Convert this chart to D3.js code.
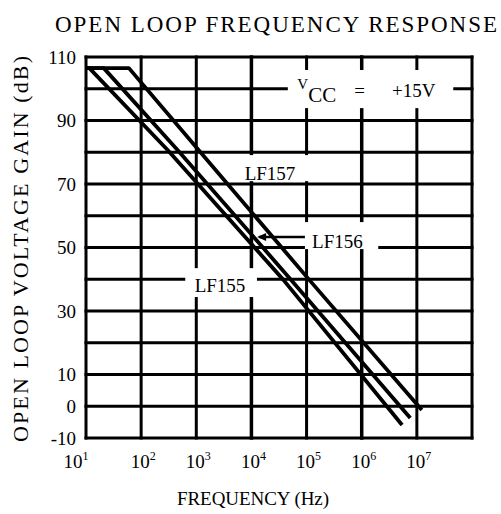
<!DOCTYPE html>
<html>
<head>
<meta charset="utf-8">
<script src="https://cdn.jsdelivr.net/npm/d3@7"></script>
<style>
    body { margin: 0; background: #fff; }
    svg text { font-family: "Liberation Serif", "Times New Roman", "DejaVu Serif", serif; fill: #000; }
</style>
</head>
<body>
<div id="my_chart"></div>
<script>
// x axis: frequency decades (Hz)
var freqTicks = [1e1, 1e2, 1e3, 1e4, 1e5, 1e6, 1e7];
var freqExp = ["1", "2", "3", "4", "5", "6", "7"];
var freqGrid = [1e1, 1e2, 1e3, 1e4, 1e5, 1e6, 1e7, 1e8];

// y axis: gain (dB)
var gainTicks = [110, 90, 70, 50, 30, 10, 0, -10];
var gainGrid = [-10, 0, 10, 20, 30, 40, 50, 60, 70, 80, 90, 100, 110];

// curves
var lf155Freq = [10, 11.5, 302, 38000, 5.4e6];
var lf155Gain = [106.5, 106.5, 80.7, 39.8, -5.9];

var lf156Freq = [10, 21, 457, 52500, 7.6e6];
var lf156Gain = [106.5, 106.5, 80.7, 39.8, -3.7];

var lf157Freq = [10, 60, 1100, 112000, 1.23e7];
var lf157Gain = [106.5, 106.5, 80.7, 39.8, -1.2];

var W = 501, H = 514;

var svg = d3.select("#my_chart")
    .append("svg")
    .attr("width", W)
    .attr("height", H);

var x = d3.scaleLog().domain([10, 1e8]).range([86, 472]);
var y = d3.scaleLinear().domain([-10, 110]).range([438, 57]);

// place annotations by log10(freq)
var px = function(lf) { return x(Math.pow(10, lf)); };

// grid
var grid = svg.append("g")
    .attr("stroke", "#000")
    .attr("stroke-width", 3)
    .attr("stroke-linecap", "square");

grid.selectAll("line.v")
    .data(freqGrid)
    .enter()
    .append("line")
    .attr("class", "v")
    .attr("x1", d => x(d))
    .attr("x2", d => x(d))
    .attr("y1", y(110))
    .attr("y2", y(-10))
    .attr("stroke-width", d => (d === 1e4 || d === 1e6) ? 3.5 : 3);

grid.selectAll("line.h")
    .data(gainGrid)
    .enter()
    .append("line")
    .attr("class", "h")
    .attr("x1", x(10))
    .attr("x2", x(1e8))
    .attr("y1", d => y(d))
    .attr("y2", d => y(d));

// white boxes behind the annotations
var boxes = [
    [4.66, 7.66, 105.9, 93.9],   // Vcc
    [3.79, 5.06, 79.1, 70.9],    // LF157
    [4.97, 6.30, 58.0, 49.5],    // LF156
    [2.80, 4.10, 43.5, 34.4]     // LF155
];
svg.append("g")
    .selectAll("rect")
    .data(boxes)
    .enter()
    .append("rect")
    .attr("x", d => px(d[0]))
    .attr("width", d => px(d[1]) - px(d[0]))
    .attr("y", d => y(d[2]))
    .attr("height", d => y(d[3]) - y(d[2]))
    .attr("fill", "#fff");

// curves
var line = d3.line()
    .x(d => x(d[0]))
    .y(d => y(d[1]));

var series = [
    d3.zip(lf155Freq, lf155Gain),
    d3.zip(lf156Freq, lf156Gain),
    d3.zip(lf157Freq, lf157Gain)
];

svg.append("g")
    .selectAll("path")
    .data(series)
    .enter()
    .append("path")
    .attr("d", line)
    .attr("fill", "none")
    .attr("stroke", "#000")
    .attr("stroke-width", 3.8)
    .attr("stroke-linejoin", "round");

// LF156 leader with small arrow
var ly = y(53.3);
svg.append("line")
    .attr("x1", px(4.14)).attr("x2", px(4.97))
    .attr("y1", ly).attr("y2", ly)
    .attr("stroke", "#000").attr("stroke-width", 2.5);
svg.append("path")
    .attr("d", "M" + (px(4.14) - 2) + "," + ly + "l9,-4 l0,8z")
    .attr("fill", "#000");

// annotation text
svg.append("text").attr("x", px(4.337)).attr("y", y(71.3))
    .attr("text-anchor", "middle").attr("font-size", 19).text("LF157");
svg.append("text").attr("x", px(5.10)).attr("y", y(49.8))
    .attr("font-size", 19).text("LF156");
svg.append("text").attr("x", px(3.43)).attr("y", y(36.0))
    .attr("text-anchor", "middle").attr("font-size", 19).text("LF155");

// Vcc = +15V
svg.append("text").attr("x", px(4.83)).attr("y", y(99.9))
    .attr("font-size", 15).text("V");
svg.append("text").attr("x", px(5.03)).attr("y", y(95.8))
    .attr("font-size", 21).text("CC");
svg.append("text").attr("x", px(5.96)).attr("y", y(97.4))
    .attr("text-anchor", "middle").attr("font-size", 19).text("=");
svg.append("text").attr("x", px(6.55)).attr("y", y(97.4))
    .attr("font-size", 19).text("+15V");

// y tick labels
svg.append("g")
    .selectAll("text")
    .data(gainTicks)
    .enter()
    .append("text")
    .attr("x", 76)
    .attr("y", d => y(d))
    .attr("dy", "0.35em")
    .attr("text-anchor", "end")
    .attr("font-size", 19)
    .text(d => d);

// x tick labels: 10 with superscript
var xt = svg.append("g")
    .selectAll("text")
    .data(freqTicks)
    .enter()
    .append("text")
    .attr("x", (d, i) => x(d) + (i === 0 ? -10 : 2))
    .attr("y", 468)
    .attr("text-anchor", "middle")
    .attr("font-size", 19);
xt.append("tspan").text("10");
xt.append("tspan")
    .attr("font-size", 12)
    .attr("dy", -8)
    .text((d, i) => freqExp[i]);

// titles
svg.append("text")
    .attr("x", 55).attr("y", 32)
    .attr("font-size", 23)
    .attr("textLength", 442)
    .attr("lengthAdjust", "spacing")
    .text("OPEN LOOP  FREQUENCY RESPONSE");

svg.append("text")
    .attr("x", 177).attr("y", 505)
    .attr("font-size", 19)
    .attr("textLength", 152)
    .attr("lengthAdjust", "spacing")
    .text("FREQUENCY (Hz)");

svg.append("text")
    .attr("transform", "translate(28,249) rotate(-90)")
    .attr("text-anchor", "middle")
    .attr("font-size", 22)
    .attr("textLength", 386)
    .attr("lengthAdjust", "spacing")
    .text("OPEN LOOP VOLTAGE GAIN (dB)");
</script>
</body>
</html>
